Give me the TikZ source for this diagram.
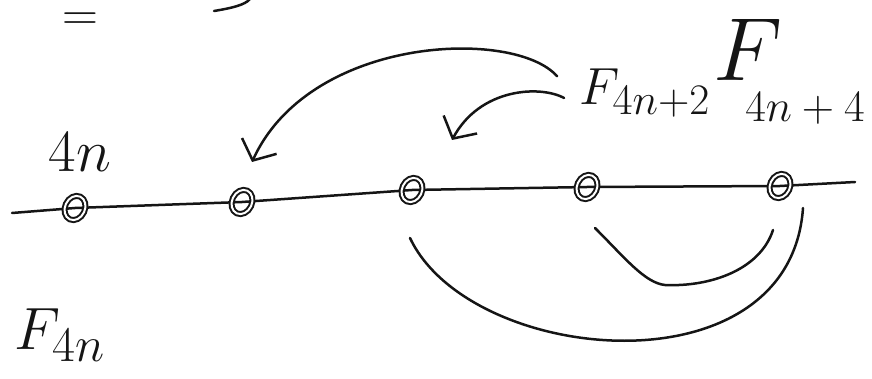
\documentclass[tikz,border=0pt]{standalone}
\usepackage{fontspec}
\usepackage{tikz}
\usetikzlibrary{arrows.meta,backgrounds,calc,positioning,shapes.geometric}
\definecolor{ink}{HTML}{151515}
\tikzset{
  pen/.style={draw=ink,line width=2.5pt,line cap=round,line join=round},
  barb/.style={pen,-{Straight Barb[length=16pt,width=38pt,line width=2.5pt]}},
  spot/.style={ellipse,draw=ink,line width=2pt,double distance=2pt,
               minimum width=20pt,minimum height=25pt,inner sep=0pt,rotate=-25},
  lbl/.style={text=ink,font=\Huge,inner sep=0pt}
}
\begin{document}
\begin{tikzpicture}[x=1pt,y=-1pt]
  \useasboundingbox (0,0) rectangle (872,379);
  % points on the line
  \node[spot] (d0) at (75,208) {};
  \node[spot] (d1) at (242,202) {};
  \node[spot] (d2) at (412,190) {};
  \node[spot] (d3) at (587,187) {};
  \node[spot] (d4) at (780,186) {};
  \coordinate (lineL) at (12,213);
  \coordinate (lineR) at (855,182);
  \begin{scope}[on background layer]
    \draw[pen] (lineL) -- (d0.center) -- (d1.center) -- (d2.center) -- (d3.center) -- (d4.center) -- (lineR);
  \end{scope}
  % labels
  \node[lbl,scale=2.4] (n4) at (80,152) {$4n$};
  \node[lbl,scale=2.4] (f4n) at (60,335) {$F_{4n}$};
  \node[lbl,scale=2.1] (f4n2) at (645,93) {$F_{4n+2}$};
  \node[lbl,scale=3.6] (fbig) at (748,50) {$F$};
  \node[lbl,scale=1.8] (n44) at (805,108) {$4n+4$};
  \node[lbl,scale=2] (eq) at (80,22) {$=$};
  \draw[pen] (214,11) .. controls (232,8) and (245,5) .. (250,-1);
  % arrows from F_{4n+2}
  \draw[barb] ($(f4n2.north west)+(-22,8)$) .. controls (515,28) and (310,35) .. ($(d1)+(10,-40)$);
  \draw[barb] ($(f4n2.west)+(-15,5)$) .. controls (540,85) and (480,88) .. ($(d2)+(40,-50)$);
  % arcs below the line
  \draw[pen] ($(d4)+(23,22)$) .. controls (790,395) and (470,365) .. ($(d2)+(-2,48)$);
  \draw[pen] ($(d4)+(-7,44)$) .. controls (760,270) and (710,287) .. (665,285)
    .. controls (645,283) and (625,258) .. ($(d3)+(8,41)$);
\end{tikzpicture}
\end{document}
